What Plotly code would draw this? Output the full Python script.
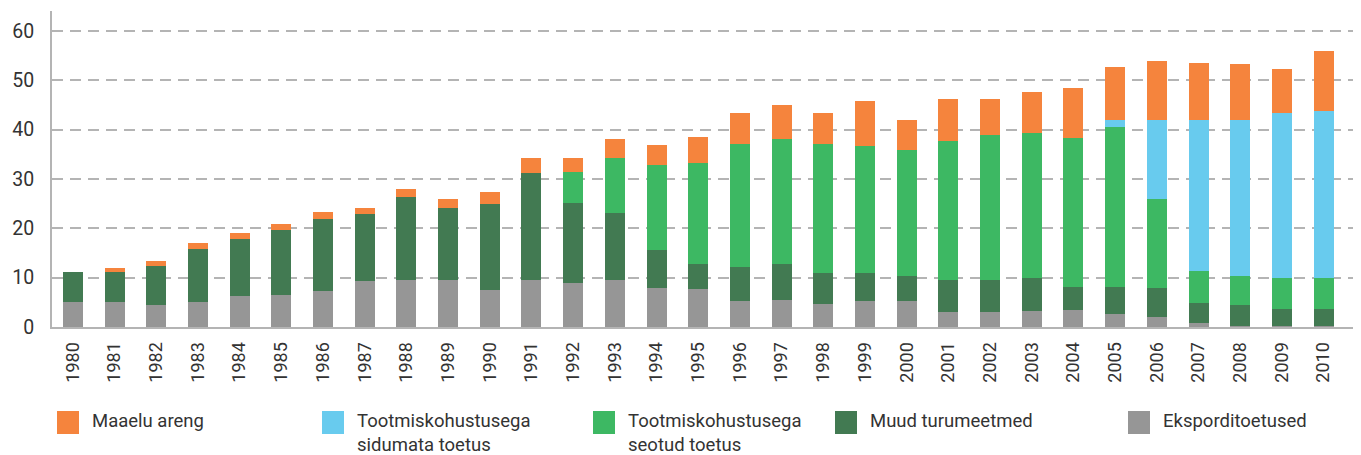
import plotly.graph_objects as go

years = [str(y) for y in range(1980, 2011)]

# segment values (billion EUR), bottom to top
eksport = [5.1, 5.1, 4.5, 5.1, 6.2, 6.4, 7.2, 9.4, 9.6, 9.6, 7.4, 9.6, 9.0, 9.6, 7.8, 7.6,
           5.2, 5.4, 4.7, 5.2, 5.2, 3.1, 3.1, 3.3, 3.5, 2.7, 2.1, 0.9, 0.3, 0.3, 0.3]
muud = [6.1, 6.1, 7.8, 10.6, 11.7, 13.2, 14.7, 13.5, 16.8, 14.5, 17.5, 21.6, 16.2, 13.5, 7.7, 5.2,
        7.0, 7.4, 6.3, 5.8, 5.2, 6.5, 6.5, 6.7, 4.7, 5.5, 5.9, 4.0, 4.2, 3.4, 3.4]
seotud = [0, 0, 0, 0, 0, 0, 0, 0, 0, 0, 0, 0, 6.2, 11.1, 17.3, 20.4,
          24.9, 25.3, 26.1, 25.7, 25.5, 28.1, 29.3, 29.3, 30.1, 32.3, 18.0, 6.5, 5.9, 6.3, 6.3]
sidumata = [0, 0, 0, 0, 0, 0, 0, 0, 0, 0, 0, 0, 0, 0, 0, 0,
            0, 0, 0, 0, 0, 0, 0, 0, 0, 1.4, 15.9, 30.5, 31.5, 33.3, 33.7]
maaelu = [0, 0.8, 1.1, 1.4, 1.2, 1.3, 1.4, 1.2, 1.6, 1.9, 2.5, 3.0, 2.8, 3.9, 4.1, 5.3,
          6.2, 6.8, 6.2, 9.1, 6.0, 8.5, 7.3, 8.3, 10.1, 10.7, 11.9, 11.5, 11.3, 8.9, 12.2]

series = [
    ("Eksporditoetused", eksport, "#969696"),
    ("Muud turumeetmed", muud, "#427A52"),
    ("Tootmiskohustusega<br>seotud toetus", seotud, "#3DB863"),
    ("Tootmiskohustusega<br>sidumata toetus", sidumata, "#68CBEE"),
    ("Maaelu areng", maaelu, "#F5843D"),
]

legend_order = [
    ("Maaelu areng", "#F5843D", 57),
    ("Tootmiskohustusega<br>sidumata toetus", "#68CBEE", 322),
    ("Tootmiskohustusega<br>seotud toetus", "#3DB863", 593),
    ("Muud turumeetmed", "#427A52", 835),
    ("Eksporditoetused", "#969696", 1128),
]

# the page body has an 8px margin, so the figure starts at (8, 8)
OFF = 8
W, H = 1361 - OFF, 455 - OFF
# plot area in page pixels: x 52..1357, y 11..327
L, T = 52 - OFF, 11 - OFF
R, B = 1361 - 1357, 455 - 327
pw = 1357 - 52
ph = 327 - 11


def px_x(x):
    return (x - 52) / pw


def px_y(y):
    return (327 - y) / ph


fig = go.Figure()
for name, vals, color in series:
    fig.add_trace(go.Bar(x=years, y=vals, name=name, width=0.48,
                         marker=dict(color=color, line=dict(width=0)),
                         showlegend=False))

font = "Roboto, 'Open Sans', sans-serif"
shapes = []
annotations = []
for name, color, x0 in legend_order:
    shapes.append(dict(type="rect", xref="paper", yref="paper",
                       x0=px_x(x0), x1=px_x(x0 + 22), y0=px_y(434), y1=px_y(411),
                       fillcolor=color, line=dict(width=0)))
    annotations.append(dict(xref="paper", yref="paper", x=px_x(x0 + 33), y=px_y(408),
                            xanchor="left", yanchor="top", align="left", showarrow=False,
                            text=name, font=dict(size=18.5, color="#333333", family=font)))

fig.update_layout(
    width=W, height=H,
    margin=dict(l=L, r=R, t=T, b=B),
    barmode="stack",
    plot_bgcolor="white", paper_bgcolor="white",
    font=dict(family=font, color="#333333", size=17),
    shapes=shapes, annotations=annotations,
    xaxis=dict(type="category", range=[-0.5, 30.8], tickangle=-90, automargin=False,
               showline=True, linecolor="#b4b4b4", linewidth=2,
               ticks="", showgrid=False, tickfont=dict(size=18), ticklabelstandoff=6),
    yaxis=dict(range=[0, 64], tickvals=[0, 10, 20, 30, 40, 50, 60], automargin=False,
               showline=True, linecolor="#b4b4b4", linewidth=2,
               showgrid=True, gridcolor="#b4b4b4", gridwidth=2, griddash="11px,7px",
               zeroline=False, ticks="", tickfont=dict(size=19.5), ticklabelstandoff=12),
)

fig.write_html("out.html")
